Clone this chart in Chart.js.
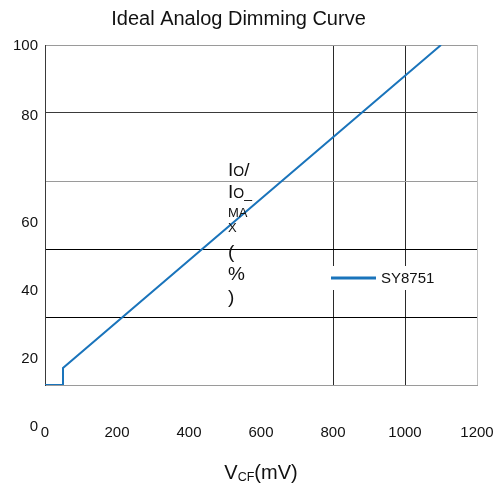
<!DOCTYPE html>
<html>
<head>
<meta charset="utf-8">
<script src="https://cdn.jsdelivr.net/npm/chart.js@4/dist/chart.umd.min.js"></script>
<style>
html,body{margin:0;padding:0;background:#fff;}
#wrap{width:493px;height:483px;}
</style>
</head>
<body>
<div id="wrap"><canvas id="c" width="493" height="483"></canvas></div>
<script>
// ---- data ----
const vcfMv = [0, 50, 50, 1100];
const ioPercent = [0, 0, 5, 100];
const seriesName = 'SY8751';
const yTickValues = [0, 20, 40, 60, 80, 100];
const chartTitle = 'Ideal Analog Dimming Curve';

const FONT = '"Liberation Sans", Arial, sans-serif';
const points = vcfMv.map((x, i) => ({x: x, y: ioPercent[i]}));

const yGridColor = {100: '#9a9a9a', 80: '#3a3a3a', 60: '#9a9a9a', 40: '#000000', 20: '#000000', 0: '#9a9a9a'};
const xGridColor = {0: '#3a3a3a', 800: '#2a2a2a', 1000: '#2a2a2a', 1200: '#c0c0c0'};

const decorPlugin = {
  id: 'decor',
  afterDatasetsDraw(chart) {
    const ctx = chart.ctx;
    const y = chart.scales.y;
    const area = chart.chartArea;
    ctx.save();
    // y tick labels
    ctx.fillStyle = '#111';
    ctx.font = '15px ' + FONT;
    ctx.textAlign = 'right';
    ctx.textBaseline = 'middle';
    yTickValues.forEach(v => {
      const off = v === 100 ? 1 : (v === 80 ? 3 : 42);
      ctx.fillText(String(v), 38, y.getPixelForValue(v) + off);
    });
    // wrapped y-axis title inside the plot
    const lines = [
      {b: 176, segs: [['I', 19], ['O', 14], ['/', 19]]},
      {b: 198, segs: [['I', 19], ['O_', 14]]},
      {b: 217, segs: [['MA', 13]]},
      {b: 232, segs: [['X', 13]]},
      {b: 258, segs: [['(', 19]]},
      {b: 280, segs: [['%', 19]]},
      {b: 303, segs: [[')', 19]]}
    ];
    ctx.textAlign = 'left';
    ctx.textBaseline = 'alphabetic';
    lines.forEach(l => {
      let x = 228;
      l.segs.forEach(s => {
        ctx.font = s[1] + 'px ' + FONT;
        ctx.fillText(s[0], x, l.b);
        x += ctx.measureText(s[0]).width;
      });
    });
    // legend
    const ds = chart.data.datasets[0];
    ctx.fillStyle = '#fff';
    ctx.fillRect(324, 266, 126, 24);
    ctx.strokeStyle = ds.borderColor;
    ctx.lineWidth = 3;
    ctx.beginPath();
    ctx.moveTo(331, 278);
    ctx.lineTo(376, 278);
    ctx.stroke();
    ctx.fillStyle = '#111';
    ctx.font = '15px ' + FONT;
    ctx.textBaseline = 'middle';
    ctx.fillText(ds.label, 381, 278.5);
    // x axis title with subscript
    const parts = [['V', 20, 479], ['CF', 12.5, 481], ['(mV)', 20, 479]];
    let w = 0;
    parts.forEach(p => { ctx.font = p[1] + 'px ' + FONT; w += ctx.measureText(p[0]).width; });
    let x = (area.left + area.right) / 2 - w / 2;
    ctx.textBaseline = 'alphabetic';
    ctx.fillStyle = '#111';
    parts.forEach(p => {
      ctx.font = p[1] + 'px ' + FONT;
      ctx.fillText(p[0], x, p[2]);
      x += ctx.measureText(p[0]).width;
    });
    ctx.restore();
  }
};

new Chart(document.getElementById('c'), {
  type: 'scatter',
  data: {
    datasets: [{
      label: seriesName,
      data: points,
      showLine: true,
      borderColor: '#1a74bb',
      backgroundColor: '#1a74bb',
      borderWidth: 2,
      pointRadius: 0,
      tension: 0
    }]
  },
  options: {
    responsive: false,
    animation: false,
    devicePixelRatio: 1,
    layout: {padding: {left: 0, right: 16, top: 0, bottom: 0}},
    plugins: {
      legend: {display: false},
      tooltip: {enabled: false},
      title: {
        display: true,
        text: chartTitle,
        color: '#111',
        font: {family: FONT, size: 20, weight: 'normal', lineHeight: 1.2},
        padding: {top: 7, bottom: 14}
      }
    },
    scales: {
      x: {
        type: 'linear',
        min: 0, max: 1200,
        afterFit(s) { s.height = 98; s.paddingRight = 0; s.paddingLeft = 0; },
        ticks: {stepSize: 200, color: '#111', padding: 39, font: {family: FONT, size: 15}, maxRotation: 0,
                callback: v => String(v)},
        grid: {
          drawTicks: false,
          color: ctx => (ctx.tick && xGridColor[ctx.tick.value] !== undefined) ? xGridColor[ctx.tick.value] : 'rgba(0,0,0,0)'
        },
        border: {display: true, color: '#9a9a9a'}
      },
      y: {
        type: 'linear',
        min: 0, max: 100,
        afterFit(s) { s.width = 45; },
        ticks: {stepSize: 20, display: false},
        grid: {
          drawTicks: false,
          color: ctx => (ctx.tick && yGridColor[ctx.tick.value] !== undefined) ? yGridColor[ctx.tick.value] : 'rgba(0,0,0,0)'
        },
        border: {display: true, color: '#3a3a3a'}
      }
    }
  },
  plugins: [decorPlugin]
});
</script>
</body>
</html>
